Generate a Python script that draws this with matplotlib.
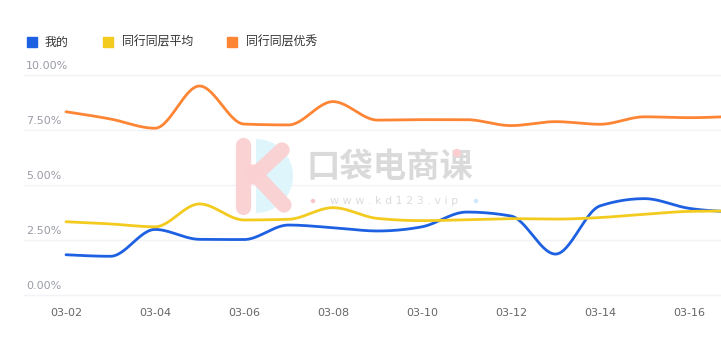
import numpy as np
import matplotlib
matplotlib.use("Agg")
import matplotlib.pyplot as plt
from matplotlib.lines import Line2D
from matplotlib.patches import Wedge, Circle
from matplotlib import transforms

plt.rcParams['font.family'] = ['Noto Sans CJK SC', 'DejaVu Sans']

# ---- data ----
dates = ["03-02", "03-03", "03-04", "03-05", "03-06", "03-07", "03-08", "03-09",
         "03-10", "03-11", "03-12", "03-13", "03-14", "03-15", "03-16", "03-17"]
mine = [1.83, 1.76, 2.98, 2.53, 2.52, 3.18, 3.06, 2.91, 3.10, 3.77, 3.59, 1.86,
        4.05, 4.38, 3.94, 3.78]
peer_avg = [3.33, 3.23, 3.10, 4.14, 3.41, 3.44, 3.97, 3.48, 3.38, 3.42, 3.47, 3.45,
            3.52, 3.67, 3.80, 3.82]
peer_top = [8.33, 8.00, 7.58, 9.50, 7.77, 7.73, 8.79, 7.95, 7.97, 7.97, 7.70, 7.88,
            7.76, 8.10, 8.06, 8.12]
series_names = ["我的", "同行同层平均", "同行同层优秀"]
colors = ["#1e60e2", "#f3cb1f", "#fd8534"]
yticks = [0, 2.5, 5, 7.5, 10]
ytick_labels = ["0.00%", "2.50%", "5.00%", "7.50%", "10.00%"]

W, H = 721, 353
fig = plt.figure(figsize=(W / 100, H / 100), dpi=100)

# axes: 1 unit x = 44.5px, 1 unit y = 22px; x=0 at px 66, y=0 at px 295
px_x, px_y = 44.5, 22.0
ax_left_px, ax_top_px, ax_bot_px = 24, 70, 300
ax = fig.add_axes([ax_left_px / W, (H - ax_bot_px) / H,
                   (W - ax_left_px) / W, (ax_bot_px - ax_top_px) / H])
ax.set_xlim((ax_left_px - 66) / px_x, (W - 66) / px_x)
ax.set_ylim((295 - ax_bot_px) / px_y, (295 - ax_top_px) / px_y)
for s in ax.spines.values():
    s.set_visible(False)
ax.set_yticks(yticks)
ax.set_yticklabels([])
ax.tick_params(axis='y', length=0)
ax.grid(axis='y', color='#f2f3f7', linewidth=1.0)
ax.set_axisbelow(True)

xi = np.arange(len(dates))
ax.set_xticks(xi[::2])
ax.set_xticklabels(dates[::2], fontsize=8, color='#666666', family='DejaVu Sans')
ax.tick_params(axis='x', length=0, pad=6)

# y labels: left aligned above gridlines
tr = transforms.blended_transform_factory(fig.transFigure, ax.transData)
tr = tr + transforms.ScaledTranslation(0, 9 / 100, fig.dpi_scale_trans)
for v, lab in zip(yticks, ytick_labels):
    ax.text(26 / W, v, lab, transform=tr, ha='left', va='center',
            fontsize=8, color='#9a9ca6', family='DejaVu Sans')


def monotone_curve(x, y, n=30):
    """Monotone cubic (monotoneX) rendering of the series."""
    x = np.asarray(x, float)
    y = np.asarray(y, float)
    m = len(x)
    h = np.diff(x)
    s = np.diff(y) / h
    t = np.zeros(m)
    for i in range(1, m - 1):
        s0, s1 = s[i - 1], s[i]
        p = (s0 * h[i] + s1 * h[i - 1]) / (h[i - 1] + h[i])
        t[i] = (np.sign(s0) + np.sign(s1)) * min(abs(s0), abs(s1), 0.5 * abs(p))
    t[0] = (3 * s[0] - t[1]) / 2
    t[-1] = (3 * s[-1] - t[-2]) / 2
    xs, ys = [], []
    u = np.linspace(0, 1, n)
    for i in range(m - 1):
        dx = h[i]
        P0 = (x[i], y[i])
        P1 = (x[i] + dx / 3, y[i] + dx * t[i] / 3)
        P2 = (x[i + 1] - dx / 3, y[i + 1] - dx * t[i + 1] / 3)
        P3 = (x[i + 1], y[i + 1])
        bx = (1 - u) ** 3 * P0[0] + 3 * (1 - u) ** 2 * u * P1[0] + 3 * (1 - u) * u ** 2 * P2[0] + u ** 3 * P3[0]
        by = (1 - u) ** 3 * P0[1] + 3 * (1 - u) ** 2 * u * P1[1] + 3 * (1 - u) * u ** 2 * P2[1] + u ** 3 * P3[1]
        if i > 0:
            bx, by = bx[1:], by[1:]
        xs.append(bx)
        ys.append(by)
    return np.concatenate(xs), np.concatenate(ys)


# ---- watermark ----
def px2in(px, py):
    return px / 100, (H - py) / 100

wm = fig.dpi_scale_trans
cx, cy = px2in(256, 176)
fig.add_artist(Wedge((cx, cy), 0.37, -90, 90, transform=wm, facecolor='#def5fc',
                     edgecolor='none', zorder=0.5))
for (x0, y0, x1, y1) in [(243, 145, 243, 207), (253, 177, 282, 150), (253, 172, 284, 205)]:
    a, b = px2in(x0, y0)
    c, d = px2in(x1, y1)
    fig.add_artist(Line2D([a, c], [b, d], transform=wm, color='#fbd0d2', lw=11,
                          solid_capstyle='round', alpha=0.95, zorder=0.6))
tx, ty = px2in(306, 167)
fig.text(tx, ty, "口袋电商课", transform=wm, fontsize=24, fontweight='bold',
         color='#dadada', ha='left', va='center', zorder=0.6)
dx, dy = px2in(457, 153)
fig.add_artist(Circle((dx, dy), 0.035, transform=wm, color='#fbcfd1', zorder=0.7))
tx, ty = px2in(330, 201)
fig.text(tx, ty, "w w w . k d 1 2 3 . v i p", transform=wm, fontsize=8,
         color='#dcdcdc', ha='left', va='center', family='DejaVu Sans', zorder=0.6)
for (px_, py_, col) in [(313, 201, '#f8c4c6'), (476, 201, '#cbe8f8')]:
    a, b = px2in(px_, py_)
    fig.add_artist(Circle((a, b), 0.015, transform=wm, color=col, zorder=0.6))

# ---- lines ----
for vals, col in zip([mine, peer_avg, peer_top], colors):
    sx, sy = monotone_curve(xi, vals)
    ax.plot(sx, sy, color=col, lw=2.0, solid_capstyle='round', zorder=3)

# ---- legend ----
leg_items = [(27, 45), (103, 122), (227, 246)]
for (sqx, tx_), name, col in zip(leg_items, series_names, colors):
    a, b = px2in(sqx, 46.5)
    fig.add_artist(plt.Rectangle((a, b), 0.095, 0.095, transform=wm, color=col))
    a, b = px2in(tx_, 42)
    fig.text(a, b, name, transform=wm, fontsize=8.6, color='#333333',
             ha='left', va='center')

fig.savefig("out.png", dpi=100)
